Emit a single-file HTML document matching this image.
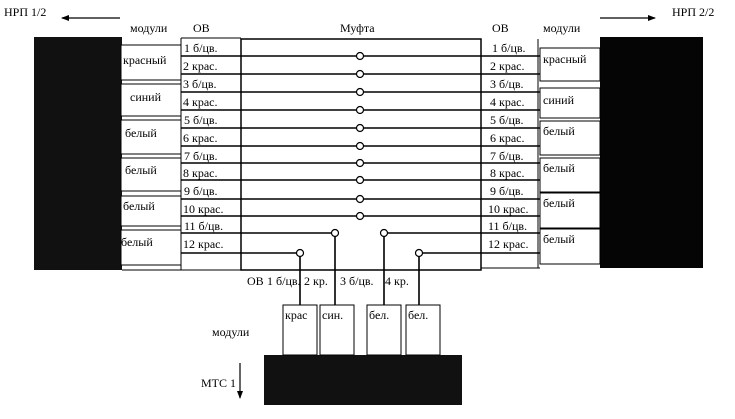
<!DOCTYPE html>
<html><head><meta charset="utf-8"><style>
html,body{margin:0;padding:0;background:#fff;}
svg{display:block;}
text{font-family:"Liberation Serif","DejaVu Serif",serif;font-size:12px;fill:#000;}
</style></head><body>
<svg width="735" height="419" viewBox="0 0 735 419" xmlns="http://www.w3.org/2000/svg">
<defs>
<marker id="ah" markerWidth="8" markerHeight="6" refX="7" refY="3" orient="auto" markerUnits="userSpaceOnUse"><path d="M0,0 L8,3 L0,6 Z" fill="#000"/></marker>
</defs>
<text x="4" y="16">НРП 1/2</text>
<line x1="120" y1="18" x2="62" y2="18" stroke="#000" stroke-width="1.2" marker-end="url(#ah)"/>
<text x="672" y="16">НРП 2/2</text>
<line x1="600" y1="18" x2="655" y2="18" stroke="#000" stroke-width="1.2" marker-end="url(#ah)"/>
<text x="130" y="32" font-size="11">модули</text>
<text x="193" y="32">ОВ</text>
<text x="340" y="32">Муфта</text>
<text x="492" y="32">ОВ</text>
<text x="543" y="32" font-size="11">модули</text>

<rect x="34" y="37" width="88" height="233" fill="#111"/>
<rect x="600" y="37" width="103" height="231" fill="#050505"/>
<rect x="264" y="355" width="198" height="50" fill="#111"/>

<rect x="241" y="39" width="240" height="231" fill="none" stroke="#000" stroke-width="1.5"/>

<g stroke="#000" fill="#fff" stroke-width="1">
<rect x="121" y="45" width="60" height="35"/>
<rect x="121" y="84" width="60" height="32"/>
<rect x="121" y="120" width="60" height="34"/>
<rect x="121" y="158" width="60" height="33"/>
<rect x="121" y="196" width="60" height="30"/>
<rect x="121" y="230" width="60" height="35"/>
<rect x="540" y="48" width="60" height="33"/>
<rect x="540" y="88" width="60" height="30"/>
<rect x="540" y="121" width="60" height="34"/>
<rect x="540" y="158" width="60" height="34"/>
<rect x="540" y="193" width="60" height="35"/>
<rect x="540" y="229" width="60" height="35"/>
<rect x="283" y="305" width="34" height="50"/>
<rect x="320" y="305" width="34" height="50"/>
<rect x="367" y="305" width="34" height="50"/>
<rect x="406" y="305" width="34" height="50"/>
</g>

<g stroke="#000" stroke-width="1.6" fill="none">
<line x1="181" y1="56" x2="540" y2="56"/>
<line x1="181" y1="74" x2="540" y2="74"/>
<line x1="181" y1="92" x2="540" y2="92"/>
<line x1="181" y1="110" x2="540" y2="110"/>
<line x1="181" y1="128" x2="540" y2="128"/>
<line x1="181" y1="146" x2="540" y2="146"/>
<line x1="181" y1="163" x2="540" y2="163"/>
<line x1="181" y1="180" x2="540" y2="180"/>
<line x1="181" y1="199" x2="540" y2="199"/>
<line x1="181" y1="216" x2="540" y2="216"/>
<polyline points="181,233 335,233 335,305"/>
<polyline points="181,253 300,253 300,305"/>
<polyline points="540,233 384,233 384,305"/>
<polyline points="540,253 419,253 419,305"/>
<line x1="181" y1="38" x2="241" y2="38" stroke-width="1"/>
<line x1="181" y1="38" x2="181" y2="270" stroke-width="1"/>
<line x1="538" y1="39" x2="538" y2="268" stroke-width="1"/>
<line x1="122" y1="270" x2="241" y2="270" stroke-width="1"/>
<line x1="481" y1="268" x2="540" y2="268" stroke-width="1"/>
<line x1="240" y1="363" x2="240" y2="398" stroke-width="1.2" marker-end="url(#ah)"/>
</g>
<g stroke="#000" stroke-width="1.2" fill="#fff">
<circle cx="360" cy="56" r="3.5"/><circle cx="360" cy="74" r="3.5"/>
<circle cx="360" cy="92" r="3.5"/><circle cx="360" cy="110" r="3.5"/>
<circle cx="360" cy="128" r="3.5"/><circle cx="360" cy="146" r="3.5"/>
<circle cx="360" cy="163" r="3.5"/><circle cx="360" cy="180" r="3.5"/>
<circle cx="360" cy="199" r="3.5"/><circle cx="360" cy="216" r="3.5"/>
<circle cx="335" cy="233" r="3.5"/><circle cx="300" cy="253" r="3.5"/>
<circle cx="384" cy="233" r="3.5"/><circle cx="419" cy="253" r="3.5"/>
</g>

<g font-size="12">
<text x="123" y="64">красный</text>
<text x="130" y="101">синий</text>
<text x="125" y="137">белый</text>
<text x="125" y="174">белый</text>
<text x="123" y="210">белый</text>
<text x="121" y="246">белый</text>
<text x="543" y="63">красный</text>
<text x="543" y="104">синий</text>
<text x="543" y="135">белый</text>
<text x="543" y="172">белый</text>
<text x="543" y="207">белый</text>
<text x="543" y="243">белый</text>
</g>
<g font-size="11.5">
<text x="184" y="52">1 б/цв.</text>
<text x="183" y="70">2 крас.</text>
<text x="183" y="88">3 б/цв.</text>
<text x="183" y="106">4 крас.</text>
<text x="184" y="124">5 б/цв.</text>
<text x="183" y="142">6 крас.</text>
<text x="184" y="160">7 б/цв.</text>
<text x="183" y="177">8 крас.</text>
<text x="184" y="195">9 б/цв.</text>
<text x="183" y="213">10 крас.</text>
<text x="184" y="230">11 б/цв.</text>
<text x="183" y="248">12 крас.</text>
<text x="492" y="52">1 б/цв.</text>
<text x="490" y="70">2 крас.</text>
<text x="490" y="88">3 б/цв.</text>
<text x="490" y="106">4 крас.</text>
<text x="490" y="124">5 б/цв.</text>
<text x="490" y="142">6 крас.</text>
<text x="490" y="160">7 б/цв.</text>
<text x="490" y="177">8 крас.</text>
<text x="490" y="195">9 б/цв.</text>
<text x="488" y="213">10 крас.</text>
<text x="488" y="230">11 б/цв.</text>
<text x="488" y="248">12 крас.</text>
</g>
<text x="247" y="285">ОВ</text>
<text x="267" y="285" font-size="11">1 б/цв.</text>
<text x="304" y="285" font-size="11">2 кр.</text>
<text x="340" y="285" font-size="11">3 б/цв.</text>
<text x="385" y="285" font-size="11">4 кр.</text>
<text x="285" y="319" font-size="11">крас</text>
<text x="322" y="319" font-size="11">син.</text>
<text x="369" y="319" font-size="11">бел.</text>
<text x="408" y="319" font-size="11">бел.</text>
<text x="212" y="336" font-size="11">модули</text>
<text x="201" y="387">МТС 1</text>
</svg>
</body></html>
